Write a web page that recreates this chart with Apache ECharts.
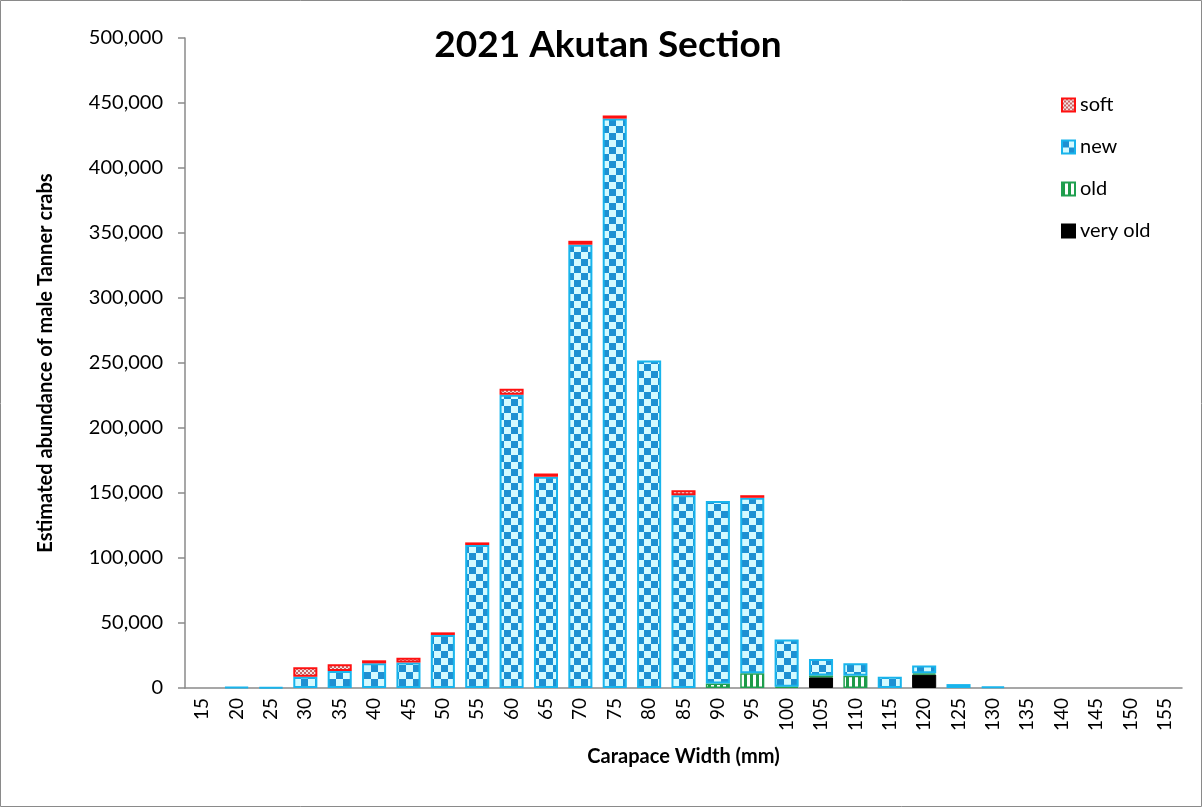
<!DOCTYPE html>
<html><head><meta charset="utf-8">
<script src="https://cdn.jsdelivr.net/npm/echarts@6/dist/echarts.min.js"></script>
<style>html,body{margin:0;padding:0;background:#fff}#c{width:1202px;height:807px}</style>
</head><body><div id="c"></div>
<script>
const categories = ['15','20','25','30','35','40','45','50','55','60','65','70','75','80','85','90','95','100','105','110','115','120','125','130','135','140','145','150','155'];
const veryOld = [0,0,0,0,0,0,0,0,0,0,0,0,0,0,0,0,0,0,8200,0,0,10300,0,0,0,0,0,0,0];
const old     = [0,0,0,0,0,0,0,0,0,0,0,0,0,0,0,3500,11300,1000,1500,9500,0,1000,0,0,0,0,0,0,0];
const newS    = [0,600,500,8700,13000,19000,19700,40800,110000,225600,162500,341000,438000,252000,148200,140300,135000,36400,12600,9500,8700,6100,3000,1200,0,0,0,0,0];
const soft    = [0,0,0,7200,5200,2300,3600,2000,2000,4600,2500,3000,2400,0,4000,0,2000,0,0,0,0,0,0,0,0,0,0,0,0];
const yTicks = [0,50000,100000,150000,200000,250000,300000,350000,400000,450000,500000];

function pat(w,h,draw){const c=document.createElement('canvas');c.width=w;c.height=h;const g=c.getContext('2d');draw(g);return c;}
const newPat = pat(14,14,g=>{g.fillStyle='#D4FAFF';g.fillRect(0,0,14,14);g.fillStyle='#1E90D2';g.fillRect(0,0,7,7);g.fillRect(7,7,7,7);});
const softPat = pat(4,4,g=>{g.fillStyle='#F4E4E4';g.fillRect(0,0,4,4);g.fillStyle='#C86464';g.fillRect(0,0,2,2);g.fillRect(2,2,2,2);});
const oldPat = pat(6,6,g=>{g.fillStyle='#FFFFFF';g.fillRect(0,0,6,6);g.fillStyle='#1E9A48';g.fillRect(0,0,3,6);});
const blackPat = pat(2,2,g=>{g.fillStyle='#000';g.fillRect(0,0,2,2);});

const chart = echarts.init(document.getElementById('c'));
const FONT = 'Lato';
function ser(name,data,fill,border,bw){
  return {name,type:'bar',stack:'a',data:data.map(v=>v===0?'-':v),barCategoryGap:'30%',
    itemStyle:{color:{image:fill,repeat:'repeat'},borderColor:border,borderWidth:bw},
    emphasis:{disabled:true}};
}
chart.setOption({
  animation:false,
  textStyle:{fontFamily:FONT},
  title:{text:'2021 Akutan Section',left:603,top:22,textAlign:'center',
    textStyle:{fontFamily:FONT,fontSize:37,fontWeight:'bold',color:'#000'}},
  graphic:[{type:'rect',shape:{x:0.5,y:0.5,width:1201,height:806},style:{fill:'none',stroke:'#8a8a8a',lineWidth:1}}],
  legend:{orient:'vertical',left:1056,top:90,itemGap:22,itemWidth:13,itemHeight:13,icon:'rect',
    data:['soft','new','old','very old'],
    textStyle:{fontFamily:FONT,fontSize:20,color:'#000'}},
  grid:{left:185,right:20,top:38,bottom:119,containLabel:false},
  xAxis:{type:'category',data:categories,
    name:'Carapace Width (mm)',nameLocation:'middle',nameGap:59,
    nameTextStyle:{fontFamily:FONT,fontSize:20,fontWeight:'bold',color:'#000'},
    axisLine:{lineStyle:{color:'#8a8a8a',width:1.5}},
    axisTick:{length:8,lineStyle:{color:'#8a8a8a',width:1.5}},
    axisLabel:{rotate:90,fontSize:19,color:'#000',margin:10,fontFamily:FONT}},
  yAxis:{type:'value',min:0,max:500000,interval:50000,
    name:'Estimated abundance of male Tanner crabs',nameLocation:'middle',nameGap:129,
    nameTextStyle:{fontFamily:FONT,fontSize:20,fontWeight:'bold',color:'#000'},
    splitLine:{show:false},
    axisLine:{show:true,lineStyle:{color:'#8a8a8a',width:1.5}},
    axisTick:{show:true,length:7,lineStyle:{color:'#8a8a8a',width:1.5}},
    axisLabel:{fontSize:20,color:'#000',margin:22,fontFamily:FONT,
      formatter:v=>yTicks.includes(v)?v.toLocaleString('en-US'):''}},
  series:[
    ser('very old',veryOld,blackPat,'#000',1),
    ser('old',old,oldPat,'#20A050',1.5),
    ser('new',newS,newPat,'#18B4EC',2),
    ser('soft',soft,softPat,'#FF1010',2)
  ]
});
</script></body></html>
